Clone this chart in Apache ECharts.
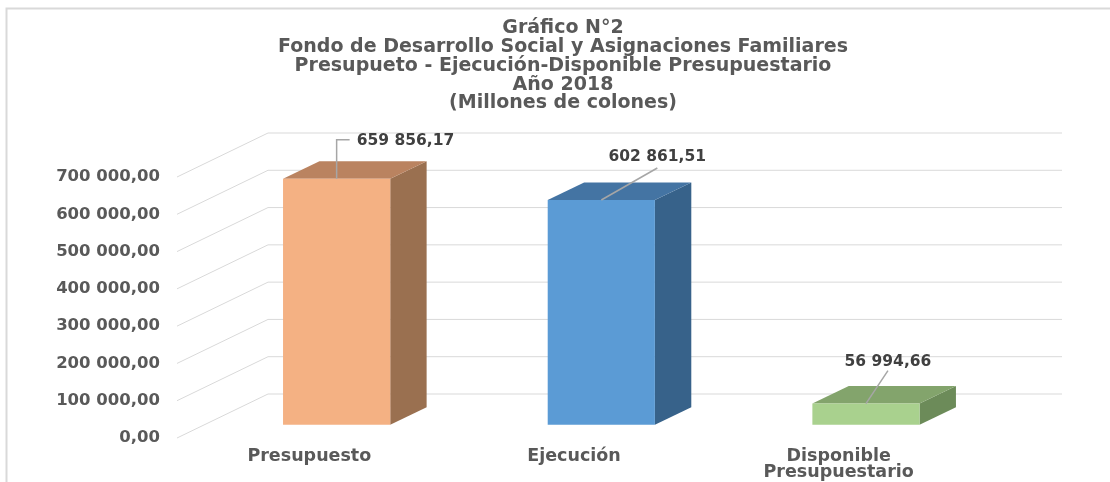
<!DOCTYPE html>
<html>
<head>
<meta charset="utf-8">
<script src="https://cdn.jsdelivr.net/npm/echarts@6.0.0/dist/echarts.min.js"></script>
<style>
  html, body { margin: 0; padding: 0; background: #fff; }
  #chart { width: 1110px; height: 482px; }
</style>
</head>
<body>
<div id="chart"></div>
<script>
// datos del gráfico
var categorias = ['Presupuesto', 'Ejecución', 'Disponible\nPresupuestario'];
var valores = [659856.17, 602861.51, 56994.66];
var ticksY = [0, 100000, 200000, 300000, 400000, 500000, 600000, 700000];

// colores de cada barra: frente, tapa, lado
var coloresFrente = ['#F4B183', '#5B9BD5', '#A9D18E'];
var coloresTapa = ['#BA8360', '#4474A3', '#83A46C'];
var coloresLado = ['#9A7050', '#37628A', '#6C8B59'];

// profundidad del "3D" y ancho de barra
var PROF = [91, -44];
var ANCHO = 0.405;

// lineas guia de las etiquetas (relativas al borde superior del frente)
var guias = [
  { pts: [[0, -39], [13, -39]], txt: [20, -38], align: 'left' },
  { pts: [[56, -32]], txt: [56, -43], align: 'center' },
  { pts: [[22, -33]], txt: [22, -42], align: 'center' }
];

var fuente = 'DejaVu Sans';

// formato 659 856,17
function formato(v) {
  var partes = v.toFixed(2).split('.');
  var entero = partes[0].replace(/\B(?=(\d{3})+(?!\d))/g, ' ');
  return entero + ',' + partes[1];
}

var chart = echarts.init(document.getElementById('chart'));

function dibujarGrilla(params, api) {
  var cs = params.coordSys;
  var y = api.coord([0, api.value(1)])[1];
  return {
    type: 'polyline',
    silent: true,
    shape: {
      points: [
        [cs.x, y],
        [cs.x + PROF[0], y + PROF[1]],
        [cs.x + cs.width + PROF[0], y + PROF[1]]
      ]
    },
    style: { stroke: '#D9D9D9', lineWidth: 1, fill: null }
  };
}

function dibujarBarra(params, api) {
  var i = api.value(0);
  var v = api.value(1);
  var arriba = api.coord([i, v]);
  var base = api.coord([i, 0]);
  var mitad = api.size([1, 0])[0] * ANCHO / 2;
  // cara frontal a 0.3 de la profundidad, trasera a 0.7
  var fx = PROF[0] * 0.3, fy = PROF[1] * 0.3;
  var dx = PROF[0] * 0.4, dy = PROF[1] * 0.4;
  var x0 = arriba[0] - mitad + fx;
  var x1 = arriba[0] + mitad + fx;
  var yt = arriba[1] + fy;
  var yb = base[1] + fy;
  var cx = (x0 + x1) / 2;
  var g = guias[i];
  var puntos = [[cx, yt]];
  g.pts.forEach(function (p) { puntos.push([cx + p[0], yt + p[1]]); });

  return {
    type: 'group',
    children: [
      {
        type: 'polygon',
        shape: { points: [[x1, yt], [x1 + dx, yt + dy], [x1 + dx, yb + dy], [x1, yb]] },
        style: { fill: coloresLado[i] }
      },
      {
        type: 'polygon',
        shape: { points: [[x0, yt], [x1, yt], [x1 + dx, yt + dy], [x0 + dx, yt + dy]] },
        style: { fill: coloresTapa[i] }
      },
      {
        type: 'rect',
        shape: { x: x0, y: yt, width: x1 - x0, height: yb - yt },
        style: { fill: coloresFrente[i] }
      },
      {
        type: 'polyline',
        shape: { points: puntos },
        style: { stroke: '#A6A6A6', lineWidth: 1.5, fill: null }
      },
      {
        type: 'text',
        x: cx + g.txt[0],
        y: yt + g.txt[1],
        style: {
          text: formato(v),
          fill: '#404040',
          font: 'bold 15.5px ' + fuente,
          align: g.align,
          verticalAlign: 'middle'
        }
      }
    ]
  };
}

var option = {
  animation: false,
  title: {
    text: 'Gráfico N°2\nFondo de Desarrollo Social y Asignaciones Familiares\nPresupueto - Ejecución-Disponible Presupuestario\nAño 2018\n(Millones de colones)',
    left: 563,
    top: 19,
    padding: 0,
    textAlign: 'center',
    textStyle: {
      fontFamily: fuente,
      fontWeight: 'bold',
      fontSize: 19,
      lineHeight: 18.75,
      color: '#595959'
    }
  },
  graphic: [{
    type: 'rect',
    silent: true,
    shape: { x: 6.5, y: 8.5, width: 1200, height: 600 },
    style: { fill: null, stroke: '#D9D9D9', lineWidth: 2 }
  }],
  grid: { left: 177, right: 139, top: 177, bottom: 44 },
  xAxis: {
    type: 'category',
    data: categorias,
    axisLine: { show: false },
    axisTick: { show: false },
    axisLabel: {
      margin: 10,
      color: '#595959',
      fontFamily: fuente,
      fontWeight: 'bold',
      fontSize: 17.5,
      lineHeight: 16
    }
  },
  yAxis: {
    type: 'value',
    min: ticksY[0],
    max: ticksY[ticksY.length - 1],
    interval: ticksY[1] - ticksY[0],
    splitLine: { show: false },
    axisLine: { show: false },
    axisTick: { show: false },
    axisLabel: {
      margin: 17,
      color: '#595959',
      fontFamily: fuente,
      fontWeight: 'bold',
      fontSize: 16.5,
      formatter: function (v) { return formato(v); }
    }
  },
  series: [
    {
      type: 'custom',
      renderItem: dibujarGrilla,
      data: ticksY.map(function (t) { return [0, t]; }),
      encode: { x: 0, y: 1 },
      silent: true,
      z: 1
    },
    {
      type: 'custom',
      renderItem: dibujarBarra,
      data: valores.map(function (v, i) { return [i, v]; }),
      encode: { x: 0, y: 1 },
      z: 2
    }
  ]
};

chart.setOption(option);
</script>
</body>
</html>
